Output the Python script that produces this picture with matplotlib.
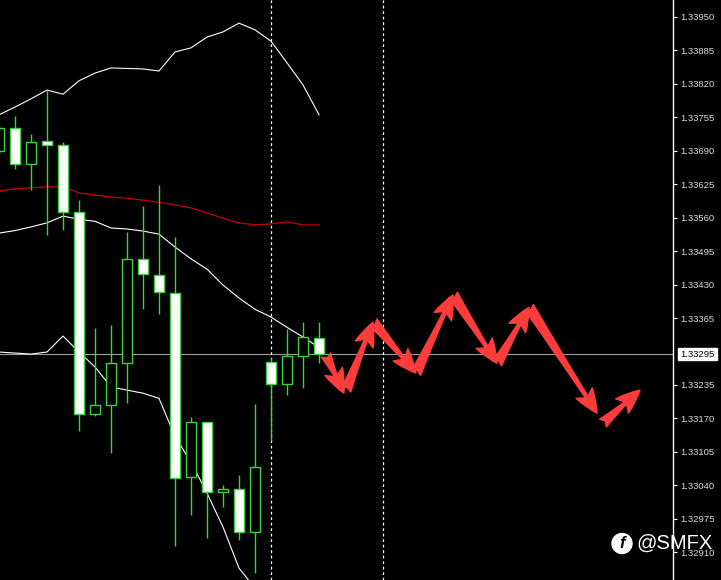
import matplotlib.pyplot as plt
import numpy as np
from matplotlib.patches import Circle

plt.rcParams['font.family'] = ['Liberation Sans', 'DejaVu Sans']

# candle data (oldest -> newest)
opens = [1.33690, 1.33734, 1.33664, 1.33709, 1.33701, 1.33571, 1.33178, 1.33196,
         1.33277, 1.33480, 1.33448, 1.33413, 1.33056, 1.33163, 1.33027, 1.33032,
         1.32949, 1.33279, 1.33237, 1.33291, 1.33326]
highs = [1.33740, 1.33758, 1.33723, 1.33810, 1.33707, 1.33594, 1.33345, 1.33351,
         1.33532, 1.33583, 1.33623, 1.33522, 1.33172, 1.33163, 1.33040, 1.33060,
         1.33198, 1.33287, 1.33343, 1.33357, 1.33357]
lows = [1.33682, 1.33655, 1.33614, 1.33526, 1.33536, 1.33145, 1.33174, 1.33102,
        1.33200, 1.33382, 1.33373, 1.32922, 1.32982, 1.32937, 1.32997, 1.32933,
        1.32869, 1.33126, 1.33215, 1.33229, 1.33277]
closes = [1.33734, 1.33664, 1.33707, 1.33701, 1.33571, 1.33178, 1.33196, 1.33277,
          1.33480, 1.33450, 1.33415, 1.33054, 1.33163, 1.33027, 1.33032, 1.32949,
          1.33075, 1.33237, 1.33291, 1.33328, 1.33295]

# bollinger bands + slow moving average
bb_upper = [1.33760, 1.33775, 1.33791, 1.33808, 1.33800, 1.33826, 1.33841, 1.33851,
            1.33850, 1.33849, 1.33845, 1.33882, 1.33890, 1.33911, 1.33921, 1.33938,
            1.33925, 1.33903, 1.33861, 1.33818, 1.33760]
bb_mid = [1.33530, 1.33535, 1.33542, 1.33550, 1.33563, 1.33557, 1.33553, 1.33540,
          1.33538, 1.33534, 1.33528, 1.33503, 1.33480, 1.33460, 1.33429, 1.33404,
          1.33382, 1.33367, 1.33347, 1.33328, 1.33308]
bb_lower = [1.33299, 1.33297, 1.33295, 1.33299, 1.33330, 1.33299, 1.33270, 1.33231,
            1.33225, 1.33219, 1.33209, 1.33135, 1.33085, 1.33025, 1.32959, 1.32879,
            1.32840, 1.32830, 1.32834, 1.32838, 1.32845]
ma_red = [1.33612, 1.33616, 1.33618, 1.33620, 1.33620, 1.33608, 1.33604, 1.33600,
          1.33598, 1.33594, 1.33590, 1.33585, 1.33579, 1.33569, 1.33559, 1.33550,
          1.33546, 1.33548, 1.33552, 1.33546, 1.33546]

# forecast arrows: (start bar, start price, tip bar, tip price)
arrow_x0 = [20.44, 21.69, 23.38, 26.06, 28.38, 31.13, 33.13, 37.75]
arrow_y0 = [1.33293, 1.33225, 1.33357, 1.33258, 1.33410, 1.33277, 1.33386, 1.33161]
arrow_x1 = [21.56, 23.38, 26.06, 28.38, 31.13, 33.13, 37.38, 40.06]
arrow_y1 = [1.33219, 1.33357, 1.33258, 1.33410, 1.33277, 1.33386, 1.33180, 1.33225]

price_ticks = [1.33950, 1.33885, 1.33820, 1.33755, 1.33690, 1.33625, 1.33560, 1.33495,
               1.33430, 1.33365, 1.33235, 1.33170, 1.33105, 1.33040, 1.32975, 1.32910]
last_price = 1.33295
vlines_at = [17, 24]

green = '#3cd23c'
fig = plt.figure(figsize=(7.21, 5.80), dpi=100, facecolor='black')
ax = fig.add_axes([0, 0, 673 / 721, 1])
ax.set_facecolor('black')

x = np.arange(len(opens))
o, h, l, c = map(np.array, (opens, highs, lows, closes))

# current price line + period separators
ax.axhline(last_price, color='#a0a0a0', lw=0.8, zorder=1)
for v in vlines_at:
    ax.axvline(v, color='white', lw=0.9, ls=(0, (2.2, 2.2)), zorder=1)

# indicators
ax.plot(x, bb_upper, color='white', lw=0.8, zorder=2)
ax.plot(x, bb_mid, color='white', lw=0.8, zorder=2)
ax.plot(x, bb_lower, color='white', lw=0.8, zorder=2)
ax.plot(x, ma_red, color='#c80000', lw=0.9, zorder=2)

# candles: white body = down, black body = up
ax.vlines(x, l, h, color=green, lw=1.0, zorder=3)
body_lo = np.minimum(o, c)
body_h = np.maximum(np.abs(c - o), 0.00002)
fills = ['white' if cc < oo else 'black' for oo, cc in zip(opens, closes)]
ax.bar(x, body_h, bottom=body_lo, width=0.66, color=fills, edgecolor=green,
       linewidth=1.0, zorder=4)

for xs, ys, xe, ye in zip(arrow_x0, arrow_y0, arrow_x1, arrow_y1):
    ax.annotate('', xy=(xe, ye), xytext=(xs, ys),
                arrowprops=dict(arrowstyle='fancy,head_length=0.75,head_width=0.6,tail_width=0.32',
                                color='#ff3c3c', shrinkA=0, shrinkB=0, mutation_scale=23),
                zorder=5)

ax.set_xlim(0.0625, 42.125)
ax.set_ylim(1.32856, 1.33983)

ax.set_xticks([])
ax.yaxis.tick_right()
ax.set_yticks(price_ticks)
ax.set_yticklabels([f'{p:.5f}' for p in price_ticks])
ax.tick_params(axis='y', colors='white', labelcolor='#dcdcdc', length=3, width=0.8,
               pad=2.5, labelsize=6.8)
for s in ['left', 'top', 'bottom']:
    ax.spines[s].set_visible(False)
ax.spines['right'].set_color('white')
ax.spines['right'].set_linewidth(1.0)

ax.annotate(f'{last_price:.5f}', xy=(1, last_price), xycoords=('axes fraction', 'data'),
            xytext=(5.3, 0), textcoords='offset points', ha='left', va='center',
            fontsize=6.8, color='black', annotation_clip=False,
            bbox=dict(boxstyle='square,pad=0.2', fc='white', ec='white'))

# watermark (sits over the axis labels, as in the source screenshot)
fig.add_artist(Circle((6.22, 0.365), 0.10, transform=fig.dpi_scale_trans,
                      color='white', zorder=10))
fig.text(6.22, 0.36, 'f', transform=fig.dpi_scale_trans, ha='center', va='center',
         fontsize=12, fontweight='bold', fontstyle='italic', color='black', zorder=11)
fig.text(6.36, 0.365, '@SMFX', transform=fig.dpi_scale_trans, ha='left', va='center',
         fontsize=14.5, color='white', zorder=11)

fig.savefig('out.png', dpi=100, facecolor='black')
